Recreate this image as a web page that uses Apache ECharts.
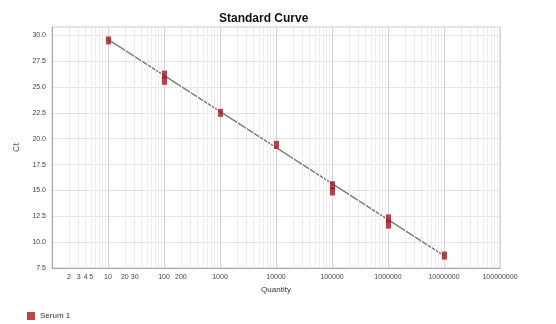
<!DOCTYPE html>
<html>
<head>
<meta charset="utf-8">
<script src="https://cdn.jsdelivr.net/npm/echarts@6/dist/echarts.min.js"></script>
<style>
  html, body { margin: 0; padding: 0; background: #fff; }
  #chart { width: 556px; height: 324px; }
</style>
</head>
<body>
<div id="chart"></div>
<script>
// standard curve: quantity vs Ct (replicates)
const quantities = [10, 100, 100, 1000, 10000, 100000, 100000, 1000000, 1000000, 10000000];
const ctValues = [29.5, 26.2, 25.6, 22.5, 19.4, 15.5, 14.9, 12.3, 11.7, 8.7];
const fitQuantities = [10, 10000000];
const fitCt = [29.6, 8.7];
const minorLabels = [2, 3, 4, 5, 20, 30, 200];
const seriesName = 'Serum 1';

// minor log grid positions 2..9 per decade
const minorGrid = [];
for (let d = 1; d < 1e8; d *= 10) {
  for (let m = 2; m <= 9; m++) minorGrid.push(d * m);
}

const chart = echarts.init(document.getElementById('chart'));
const labelFont = { fontFamily: 'Liberation Sans', fontSize: 7, color: '#444' };

chart.setOption({
  animation: false,
  title: {
    text: 'Standard Curve',
    left: 214, top: 8,
    textStyle: { fontFamily: 'Liberation Sans', fontSize: 12, fontWeight: 'bold', color: '#111' }
  },
  grid: { left: 52, right: 56, top: 27, bottom: 56, show: true, borderColor: '#c8c8c8', borderWidth: 1 },
  legend: {
    left: 22, top: 307,
    itemWidth: 8, itemHeight: 8,
    icon: 'rect',
    data: [seriesName],
    textStyle: { fontFamily: 'Liberation Sans', fontSize: 8, color: '#333' }
  },
  xAxis: {
    type: 'log', logBase: 10, min: 1, max: 1e8,
    name: 'Quantity', nameLocation: 'middle', nameGap: 17,
    nameTextStyle: { fontFamily: 'Liberation Sans', fontSize: 8, color: '#333' },
    axisLine: { lineStyle: { color: '#aaa' } },
    axisTick: { show: false },
    axisLabel: Object.assign({ showMinLabel: false, margin: 6, formatter: v => String(Math.round(v)) }, labelFont),
    splitLine: { show: true, lineStyle: { color: '#d4d4d4', width: 1 } }
  },
  yAxis: {
    type: 'value', min: 7.5, max: 30.8, interval: 2.5,
    name: 'Ct', nameLocation: 'middle', nameGap: 25,
    nameTextStyle: { fontFamily: 'Liberation Sans', fontSize: 9, color: '#555' },
    axisLine: { show: true, lineStyle: { color: '#aaa' } },
    axisTick: { show: false },
    axisLabel: Object.assign({ showMaxLabel: false, margin: 6, formatter: v => v.toFixed(1) }, labelFont),
    splitLine: { show: true, lineStyle: { color: '#e4e4e4', width: 1 } }
  },
  series: [
    {
      name: 'grid', type: 'line', data: [], silent: true,
      markLine: {
        silent: true, symbol: 'none',
        lineStyle: { color: '#ececec', type: 'solid', width: 1 },
        label: { show: false },
        data: minorGrid.map(v => ({
          xAxis: v,
          label: minorLabels.includes(v)
            ? Object.assign({ show: true, position: 'start', distance: 6, formatter: String(v) }, labelFont)
            : { show: false }
        }))
      }
    },
    {
      name: 'fit', type: 'line', silent: true,
      data: fitQuantities.map((q, i) => [q, fitCt[i]]),
      symbol: 'none',
      lineStyle: { color: '#7a7a7a', width: 1.3, type: 'solid' },
      z: 3
    },
    {
      name: seriesName, type: 'scatter',
      data: quantities.map((q, i) => [q, ctValues[i]]),
      symbol: 'rect', symbolSize: [6, 8],
      itemStyle: { color: '#b0121a' },
      z: 4
    }
  ]
});
</script>
</body>
</html>
